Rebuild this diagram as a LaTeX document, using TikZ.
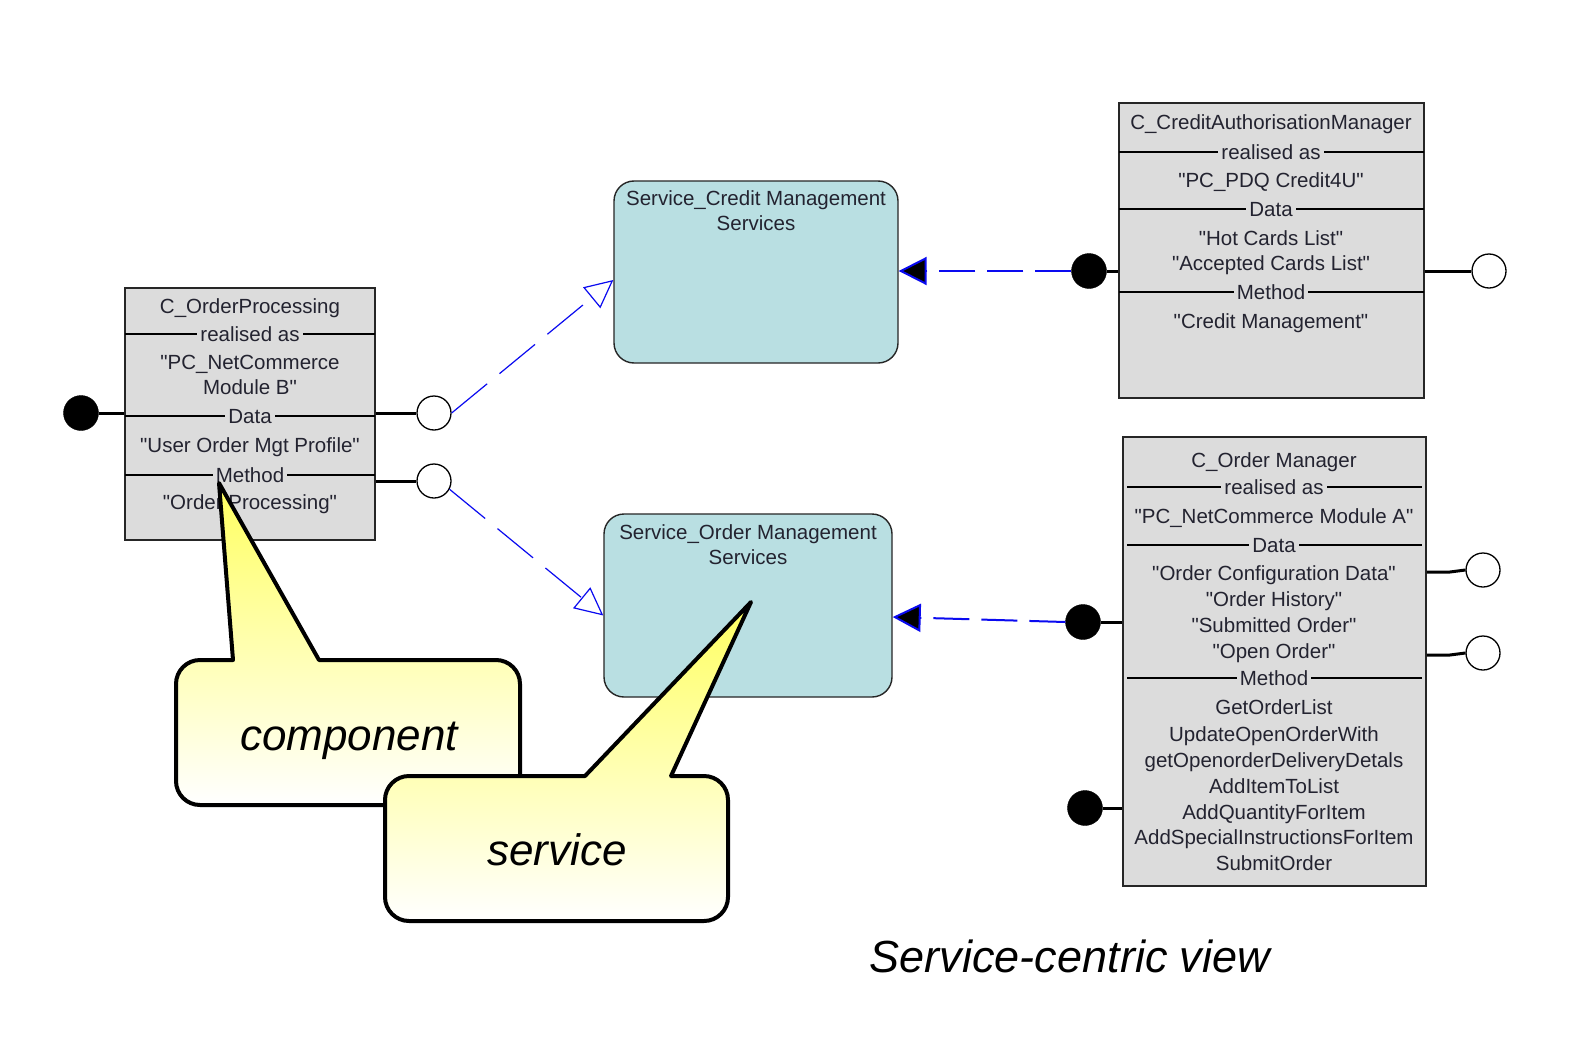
\documentclass[tikz,border=0pt]{standalone}
\usepackage{fontspec}
\setmainfont{Liberation Sans}
\newfontfamily\boxfont{Liberation Sans}
\usetikzlibrary{arrows.meta,calc}
\definecolor{boxgrey}{RGB}{220,220,220}
\definecolor{svcblue}{RGB}{185,223,226}
\definecolor{txtcol}{RGB}{35,35,48}
\definecolor{linkblue}{RGB}{10,10,240}
\definecolor{calloutyellow}{RGB}{255,255,95}
\tikzset{
 box/.style={draw=black!85, line width=1.8, fill=boxgrey, inner sep=0},
 svcbox/.style={draw=black!85, line width=1.4, fill=svcblue, rounded corners=20, inner sep=0},
 txt/.style={font=\boxfont\fontsize{20.5}{24}\selectfont, text=txtcol, inner sep=0pt, anchor=base},
 seplbl/.style={txt, fill=boxgrey, inner xsep=3pt},
 sepline/.style={line width=1.5, black},
 stub/.style={line width=3, black},
 openport/.style={circle, draw=black, line width=1.3, fill=white, minimum size=34, inner sep=0},
 solidport/.style={circle, draw=black, fill=black, minimum size=35, inner sep=0},
 thindash/.style={draw=linkblue, line width=1.2, dash pattern=on 46pt off 16pt, -{Triangle[open, length=28pt, width=27pt]}},
 thickdash/.style={draw=linkblue, line width=2, dash pattern=on 36pt off 12pt, -{Triangle[length=28pt, width=28pt, fill=black]}},
 callout/.style={draw=black, line width=4, top color=calloutyellow, bottom color=white, line join=round},
 calltxt/.style={font=\fontsize{44}{50}\selectfont\itshape, anchor=base, inner sep=0},
}
\begin{document}
\begin{tikzpicture}[x=1pt,y=-1pt]
\useasboundingbox[fill=white] (0,0) rectangle (1570,1038);

% ---------- C_OrderProcessing ----------
\node[box, minimum width=250, minimum height=252] (op) at (250,414) {};
\draw[sepline] (125,334) -- (375,334);
\draw[sepline] (125,416) -- (375,416);
\draw[sepline] (125,475) -- (375,475);
\node[txt] (op1) at (250,313) {C\_OrderProcessing};
\node[seplbl] (op2) at (250,341) {realised as};
\node[txt] (op3) at (250,369) {"PC\_NetCommerce};
\node[txt] (op4) at (250,394) {Module B"};
\node[seplbl] (op5) at (250,423) {Data};
\node[txt] (op6) at (250,452) {"User Order Mgt Profile"};
\node[seplbl] (op7) at (250,482) {Method};
\node[txt] (op8) at (250,509) {"Order Processing"};
\node[solidport] (opL) at (81,413) {};
\node[openport] (opR1) at (434,413) {};
\node[openport] (opR2) at (434,481) {};
\draw[stub] (opL) -- (op.west |- opL);
\draw[stub] (op.east |- opR1) -- (opR1);
\draw[stub] (op.east |- opR2) -- (opR2);

% ---------- C_CreditAuthorisationManager ----------
\node[box, minimum width=305, minimum height=295] (ca) at (1271.5,250.5) {};
\draw[sepline] (1119,152) -- (1424,152);
\draw[sepline] (1119,209) -- (1424,209);
\draw[sepline] (1119,292) -- (1424,292);
\node[txt] (ca1) at (1271,129) {C\_CreditAuthorisationManager};
\node[seplbl] (ca2) at (1271,159) {realised as};
\node[txt] (ca3) at (1271,187) {"PC\_PDQ Credit4U"};
\node[seplbl] (ca4) at (1271,216) {Data};
\node[txt] (ca5) at (1271,245) {"Hot Cards List"};
\node[txt] (ca6) at (1271,270) {"Accepted Cards List"};
\node[seplbl] (ca7) at (1271,299) {Method};
\node[txt] (ca8) at (1271,328) {"Credit Management"};
\node[solidport] (caL) at (1089,271) {};
\node[openport] (caR) at (1489,271) {};
\draw[stub] (caL) -- (ca.west |- caL);
\draw[stub] (ca.east |- caR) -- (caR);

% ---------- C_Order Manager ----------
\node[box, minimum width=303, minimum height=449] (om) at (1274.5,661.5) {};
\draw[sepline] (1127,487) -- (1422,487);
\draw[sepline] (1127,545) -- (1422,545);
\draw[sepline] (1127,678) -- (1422,678);
\node[txt] (om1) at (1274,467) {C\_Order Manager};
\node[seplbl] (om2) at (1274,494) {realised as};
\node[txt] (om3) at (1274,523) {"PC\_NetCommerce Module A"};
\node[seplbl] (om4) at (1274,552) {Data};
\node[txt] (om5) at (1274,580) {"Order Configuration Data"};
\node[txt] (om6) at (1274,606) {"Order History"};
\node[txt] (om7) at (1274,632) {"Submitted Order"};
\node[txt] (om8) at (1274,658) {"Open Order"};
\node[seplbl] (om9) at (1274,685) {Method};
\node[txt] (om10) at (1274,714) {GetOrderList};
\node[txt] (om11) at (1274,741) {UpdateOpenOrderWith};
\node[txt] (om12) at (1274,767) {getOpenorderDeliveryDetals};
\node[txt] (om13) at (1274,793) {AddItemToList};
\node[txt] (om14) at (1274,819) {AddQuantityForItem};
\node[txt] (om15) at (1274,844) {AddSpecialInstructionsForItem};
\node[txt] (om16) at (1274,870) {SubmitOrder};
\node[solidport] (omL1) at (1083,622) {};
\node[solidport] (omL2) at (1085,808) {};
\node[openport] (omR1) at (1483,570) {};
\node[openport] (omR2) at (1483,653) {};
\draw[stub] (omL1) -- (om.west |- omL1);
\draw[stub] (omL2) -- (om.west |- omL2);
\draw[stub] (om.east |- 0,572) -- (1450,572) -- (omR1.west);
\draw[stub] (om.east |- 0,655) -- (1450,655) -- (omR2.west);

% ---------- Services ----------
\node[svcbox, minimum width=284, minimum height=182] (svc1) at (756,272) {};
\node[txt] (s11) at (756,205) {Service\_Credit Management};
\node[txt] (s12) at (756,230) {Services};
\node[svcbox, minimum width=288, minimum height=183] (svc2) at (748,605.5) {};
\node[txt] (s21) at (748,539) {Service\_Order Management};
\node[txt] (s22) at (748,564) {Services};

% ---------- Connectors ----------
\draw[thindash] (opR1.east) -- ($(svc1.west)+(0,8)$);
\draw[thindash] (opR2.-28) -- ($(svc2.west)+(0,10)$);
\draw[thickdash] (caL.west) -- (svc1.east |- caL.west);
\draw[thickdash] (omL1.west) -- ($(svc2.east)+(0,11.5)$);

% ---------- Callouts ----------
\shadedraw[callout] (200,660) -- (233,660) -- (219,483) -- (319,660) -- (496,660)
  arc[start angle=270,end angle=360,radius=24] -- (520,781)
  arc[start angle=0,end angle=90,radius=24] -- (200,805)
  arc[start angle=90,end angle=180,radius=24] -- (176,684)
  arc[start angle=180,end angle=270,radius=24] -- cycle;
\node[calltxt] (ctxt) at (349,750) {component};

\shadedraw[callout] (409,776) -- (585,776) -- (751,602) -- (671,776) -- (704,776)
  arc[start angle=270,end angle=360,radius=24] -- (728,897)
  arc[start angle=0,end angle=90,radius=24] -- (409,921)
  arc[start angle=90,end angle=180,radius=24] -- (385,800)
  arc[start angle=180,end angle=270,radius=24] -- cycle;
\node[calltxt] (stxt) at (557,865) {service};

% ---------- Title ----------
\node[calltxt, font=\fontsize{45}{52}\selectfont\itshape] (title) at (1070,972) {Service-centric view};
\end{tikzpicture}
\end{document}
